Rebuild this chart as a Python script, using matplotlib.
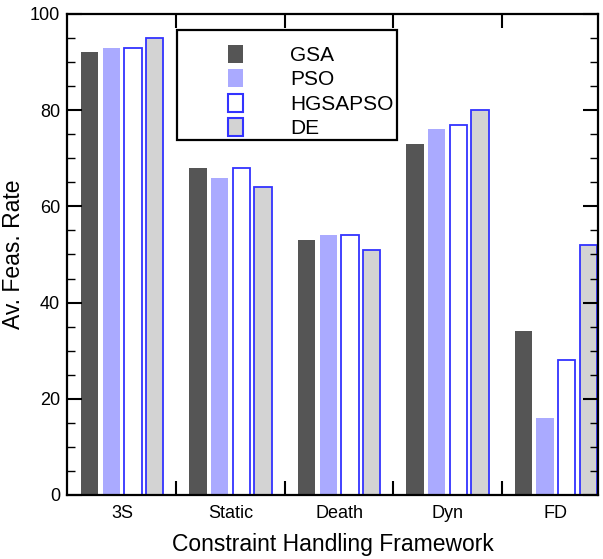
import matplotlib.pyplot as plt
import numpy as np
from matplotlib.patches import Patch, Rectangle
from matplotlib.ticker import MultipleLocator, FixedLocator

plt.rcParams['font.family'] = ['Liberation Sans', 'DejaVu Sans']

categories = ['3S', 'Static', 'Death', 'Dyn', 'FD']
methods = ['GSA', 'PSO', 'HGSAPSO', 'DE']
gsa = [92, 68, 53, 73, 34]
pso = [93, 66, 54, 76, 16]
hgsapso = [93, 68, 54, 77, 28]
de = [95, 64, 51, 80, 52]

series = [gsa, pso, hgsapso, de]
faces = ['#555555', '#aaaaff', 'white', '#d3d3d3']
edges = ['none', 'none', '#3333ff', '#3333ff']

fig = plt.figure(figsize=(6.03, 5.59), dpi=100)
ax = fig.add_axes([0.111, 0.1145, 0.881, 0.8605])

x = np.arange(len(categories))
offsets = [-0.3, -0.1, 0.1, 0.3]
for vals, off, fc, ec, name in zip(series, offsets, faces, edges, methods):
    ax.bar(x + off, vals, width=0.16, color=fc, edgecolor=ec,
           linewidth=1.3, label=name)

ax.set_xlim(-0.51, 4.39)
ax.set_ylim(0, 100)

ax.set_xticks(x)
ax.set_xticklabels(categories, fontsize=13)
ax.xaxis.set_minor_locator(FixedLocator(x[:-1] + 0.5))
ax.tick_params(axis='x', which='major', length=0, pad=7)
ax.tick_params(axis='x', which='minor', direction='in', length=10, width=1.5,
               top=True, bottom=True)

ax.set_yticks(range(0, 101, 20))
ax.yaxis.set_minor_locator(MultipleLocator(5))
ax.tick_params(axis='y', which='major', direction='in', length=11, width=1.5,
               labelsize=13, left=True, right=True, pad=5)
ax.tick_params(axis='y', which='minor', direction='in', length=6, width=1,
               left=True, right=True)

for s in ax.spines.values():
    s.set_linewidth(1.6)

ax.set_ylabel('Av. Feas. Rate', fontsize=16.5)
ax.yaxis.set_label_coords(-0.079, 0.5)
ax.set_xlabel('Constraint Handling Framework', fontsize=16.5, labelpad=8)

handles = [Patch(facecolor=fc, edgecolor=ec, linewidth=1.5)
           for fc, ec in zip(faces, edges)]
ax.legend(handles, methods, loc='upper left', bbox_to_anchor=(0.303, 0.936),
          frameon=False, fontsize=15, handlelength=0.72, handleheight=0.96,
          handletextpad=2.26, labelspacing=0.2, borderpad=0, borderaxespad=0)
ax.add_patch(Rectangle((0.207, 0.738), 0.414, 0.229, transform=ax.transAxes,
                       fill=False, edgecolor='black', linewidth=1.6,
                       clip_on=False, zorder=5))

fig.savefig('out.png', dpi=100)
